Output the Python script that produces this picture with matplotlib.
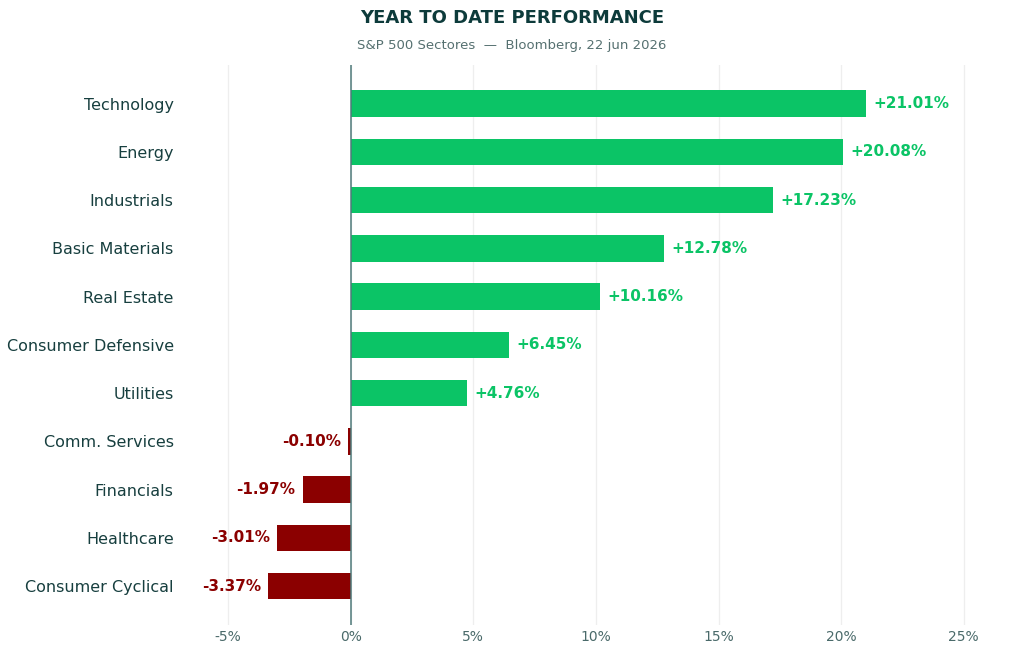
import matplotlib

matplotlib.use("Agg")
import matplotlib.pyplot as plt

sectors = ["Technology", "Energy", "Industrials", "Basic Materials", "Real Estate",
           "Consumer Defensive", "Utilities", "Comm. Services", "Financials",
           "Healthcare", "Consumer Cyclical"]
ytd = [21.01, 20.08, 17.23, 12.78, 10.16, 6.45, 4.76, -0.10, -1.97, -3.01, -3.37]
xticks = [-5, 0, 5, 10, 15, 20, 25]

GREEN = "#0bc466"
RED = "#8b0000"
TEXT = "#173f3f"

fig = plt.figure(figsize=(10.24, 6.57), dpi=100)
ax = fig.add_axes([0.175, 0.049, 0.79, 0.852])

ypos = list(range(len(sectors)))
colors = [GREEN if v >= 0 else RED for v in ytd]
ax.barh(ypos, ytd, height=0.55, color=colors, zorder=3)
for y, v in zip(ypos, ytd):
    if v >= 0:
        ax.text(v + 0.3, y, f"+{v:.2f}%", va="center", ha="left", color=GREEN,
                fontsize=11, fontweight="bold")
    else:
        ax.text(v - 0.3, y, f"{v:.2f}%", va="center", ha="right", color=RED,
                fontsize=11, fontweight="bold")

ax.axvline(0, color="#4f7a7a", linewidth=1.1, zorder=4)
ax.set_xlim(-7, 26)
ax.set_ylim(len(sectors) - 0.2, -0.8)
ax.set_yticks(ypos)
ax.set_yticklabels(sectors, fontsize=11.5, color=TEXT)
ax.set_xticks(xticks)
ax.set_xticklabels([f"{t}%" for t in xticks], fontsize=10, color="#4a6a6a")
ax.tick_params(length=0)
ax.tick_params(axis="y", pad=4)
ax.grid(axis="x", color="#eeeeee", linewidth=0.9, zorder=0)
for s in ax.spines.values():
    s.set_visible(False)

fig.text(0.5, 0.972, "YEAR TO DATE PERFORMANCE", ha="center", va="center",
         fontsize=13, fontweight="bold", color="#0d3b3b")
fig.text(0.5, 0.93, "S&P 500 Sectores  —  Bloomberg, 22 jun 2026", ha="center",
         va="center", fontsize=9.5, color="#557070")

fig.savefig("out.png", dpi=100)
